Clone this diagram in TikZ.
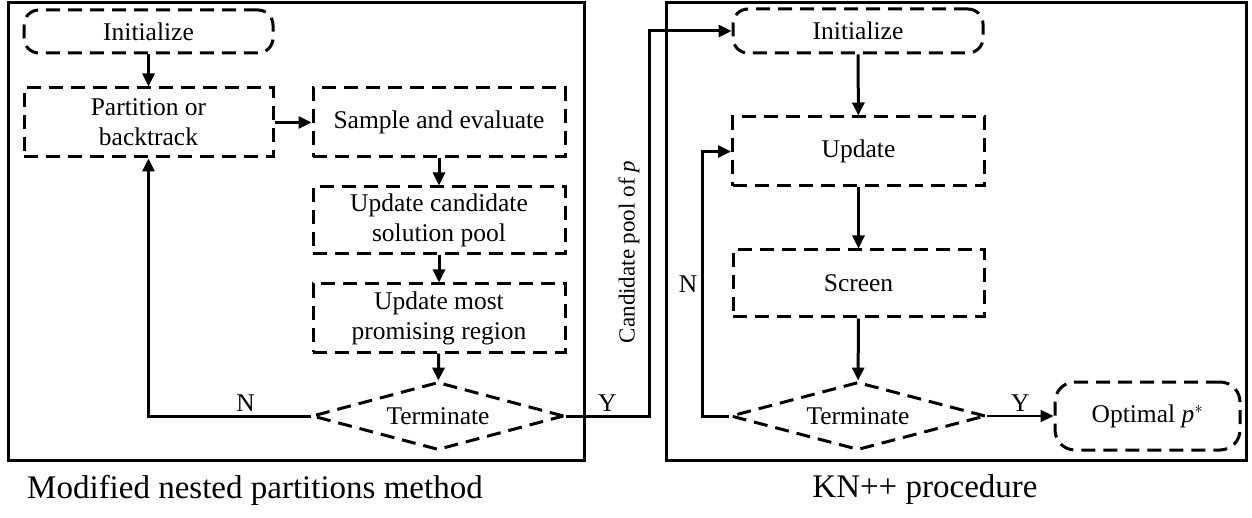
\documentclass[tikz,border=0pt]{standalone}
\usepackage{fontspec}
\setmainfont{Liberation Serif}
\usetikzlibrary{arrows.meta,shapes.geometric,positioning}

\begin{document}
\begin{tikzpicture}[x=1pt,y=-1pt,line width=3pt,
  every node/.style={font=\fontsize{25.5}{30}\selectfont},
  frame/.style={draw,inner sep=0pt},
  stepbox/.style={draw,dash pattern=on 14pt off 8pt,align=center,inner sep=0pt},
  roundbox/.style={stepbox,rounded corners=15pt},
  decide/.style={draw,dash pattern=on 14pt off 8pt,diamond,aspect=3.6,inner sep=0pt,minimum width=252pt,minimum height=68pt},
  >={Triangle[length=13pt,width=12pt]}]
\useasboundingbox (0,0) rectangle (1252,518);
% outer frames
\node[frame,minimum width=576pt,minimum height=457pt] (B1) at (296,231.5) {};
\node[frame,minimum width=580pt,minimum height=457pt] (B2) at (956,231.5) {};
% nested partitions
\node[roundbox,minimum width=249pt,minimum height=43pt] (I1) at (148.5,31.5) {Initialize};
\node[stepbox,minimum width=249pt,minimum height=69pt] (P) at (148.5,122.5) {Partition or\\backtrack};
\node[stepbox,minimum width=252pt,minimum height=69pt] (S) at (439,122.5) {Sample and evaluate};
\node[stepbox,minimum width=252pt,minimum height=67pt] (C) at (439,220.5) {Update candidate\\solution pool};
\node[stepbox,minimum width=252pt,minimum height=68pt] (M) at (439,318) {Update most\\promising region};
\node[decide] (T1) at (438,416) {Terminate};
% KN++
\node[roundbox,minimum width=250pt,minimum height=44pt] (I2) at (858,31) {Initialize};
\node[stepbox,minimum width=252pt,minimum height=69pt] (U) at (858.5,151.5) {Update};
\node[stepbox,minimum width=251pt,minimum height=67pt] (Sc) at (858.5,283.5) {Screen};
\node[decide,minimum width=255pt] (T2) at (858,416) {Terminate};
\node[roundbox,rounded corners=20pt,minimum width=185pt,minimum height=68pt] (O) at (1147.5,416) {Optimal \textit{p}$^*$};
\coordinate (y1) at (649,416);
\coordinate (n2) at (702,416);
\node[rotate=90,font=\fontsize{23}{27}\selectfont] (cp) at (629,252) {Candidate pool of \textit{p}};
% captions
\node[font=\fontsize{33}{38}\selectfont] (K1) at (255,490) {Modified nested partitions method};
\node[font=\fontsize{33}{38}\selectfont] (K2) at (925,490) {KN++ procedure};
\path[->]
(I1) edge (P)
(P) edge (S)
(S) edge (C)
(C) edge (M)
(M) edge (T1)
(I2) edge (U)
(U) edge (Sc)
(Sc) edge (T2);
\draw[->] (T1.west) -| node[pos=0.2,above] {N} (P.south);
\draw[->] (T1.east) -- node[above] {Y} (y1) |- (I2.west);
\draw[->] (T2.west) -- (n2) |- node[pos=0.25,left] {N} (U.west);
\draw[->,line width=2pt] (T2.east) -- node[above] {Y} (O.west);
\end{tikzpicture}
\end{document}
